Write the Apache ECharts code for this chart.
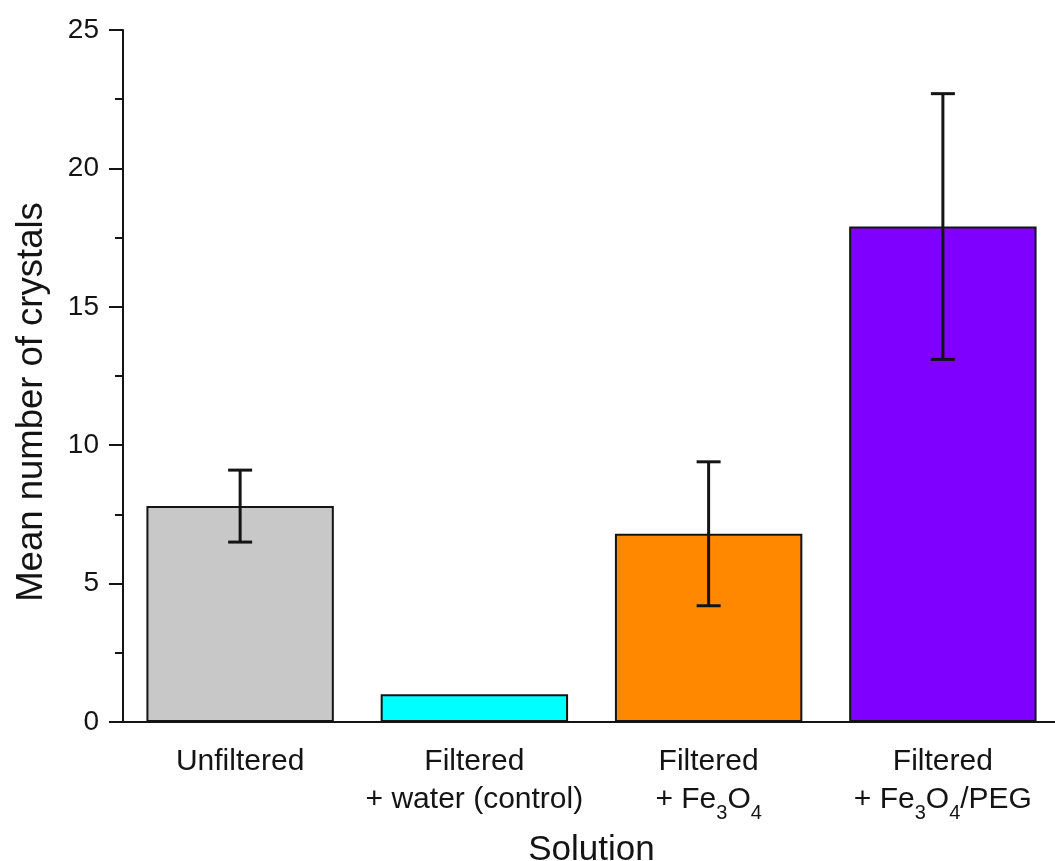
<!DOCTYPE html>
<html>
<head>
<meta charset="utf-8">
<script src="https://cdn.jsdelivr.net/npm/echarts@6/dist/echarts.min.js"></script>
<style>
  html, body { margin: 0; padding: 0; background: #ffffff; }
  #chart { width: 1055px; height: 861px; }
</style>
</head>
<body>
<div id="chart"></div>
<script>
const categories = ['Unfiltered', 'Filtered\n+ water (control)', 'Filtered\n+ Fe{s|3}O{s|4}', 'Filtered\n+ Fe{s|3}O{s|4}/PEG'];
const means = [7.8, 1.0, 6.8, 17.9];
const errLow = [6.5, null, 4.2, 13.1];
const errHigh = [9.1, null, 9.4, 22.7];
const barColors = ['#c8c8c8', '#00ffff', '#ff8800', '#8000ff'];
const yTicks = [0, 5, 10, 15, 20, 25];

const font = 'Liberation Sans, Arial, Helvetica, sans-serif';
const ink = '#141414';

const chart = echarts.init(document.getElementById('chart'), null, { renderer: 'canvas' });

const errData = [];
errLow.forEach((lo, i) => {
  if (lo != null) errData.push([i, lo, errHigh[i]]);
});

chart.setOption({
  animation: false,
  backgroundColor: '#ffffff',
  grid: { left: 123, right: -5, top: 30, bottom: 139, containLabel: false, outerBoundsMode: 'none' },
  xAxis: [
    {
      type: 'category',
      data: categories,
      name: 'Solution',
      nameLocation: 'middle',
      nameGap: 111,
      nameTextStyle: { color: ink, fontFamily: font, fontSize: 35 },
      axisLine: { lineStyle: { color: ink, width: 2 } },
      axisTick: { alignWithLabel: true, length: 14, lineStyle: { color: ink, width: 2 } },
      axisLabel: {
        color: ink,
        fontFamily: font,
        fontSize: 30,
        lineHeight: 38,
        margin: 21,
        interval: 0,
        rich: {
          s: { fontFamily: font, fontSize: 20, color: ink, lineHeight: 10, padding: [26, 0, 0, 0] }
        }
      }
    },
    {
      type: 'category',
      data: categories,
      position: 'bottom',
      axisLine: { show: false },
      axisTick: { length: 8, lineStyle: { color: ink, width: 2 } },
      axisLabel: { show: false }
    }
  ],
  yAxis: {
    type: 'value',
    min: yTicks[0],
    max: yTicks[yTicks.length - 1],
    interval: 5,
    name: 'Mean number of crystals',
    nameLocation: 'middle',
    nameGap: 73,
    nameTextStyle: { color: ink, fontFamily: font, fontSize: 36.5, padding: [0, 52, 0, 0] },
    axisLine: { show: true, lineStyle: { color: ink, width: 2 } },
    axisTick: { show: true, length: 14, lineStyle: { color: ink, width: 2 } },
    minorTick: { show: true, splitNumber: 2, length: 8, lineStyle: { color: ink, width: 2 } },
    splitLine: { show: false },
    axisLabel: { color: ink, fontFamily: font, fontSize: 28, margin: 24 }
  },
  series: [
    {
      type: 'bar',
      data: means.map((v, i) => ({ value: v, itemStyle: { color: barColors[i] } })),
      barWidth: '80%',
      itemStyle: { borderColor: ink, borderWidth: 2 }
    },
    {
      type: 'custom',
      data: errData,
      encode: { x: 0, y: [1, 2] },
      z: 5,
      renderItem: function (params, api) {
        const x = api.value(0);
        const lo = api.coord([x, api.value(1)]);
        const hi = api.coord([x, api.value(2)]);
        const cap = 12;
        const style = { stroke: ink, lineWidth: 3 };
        return {
          type: 'group',
          children: [
            { type: 'line', shape: { x1: lo[0], y1: lo[1], x2: hi[0], y2: hi[1] }, style },
            { type: 'line', shape: { x1: lo[0] - cap, y1: lo[1], x2: lo[0] + cap, y2: lo[1] }, style },
            { type: 'line', shape: { x1: hi[0] - cap, y1: hi[1], x2: hi[0] + cap, y2: hi[1] }, style }
          ]
        };
      }
    }
  ]
});
</script>
</body>
</html>
